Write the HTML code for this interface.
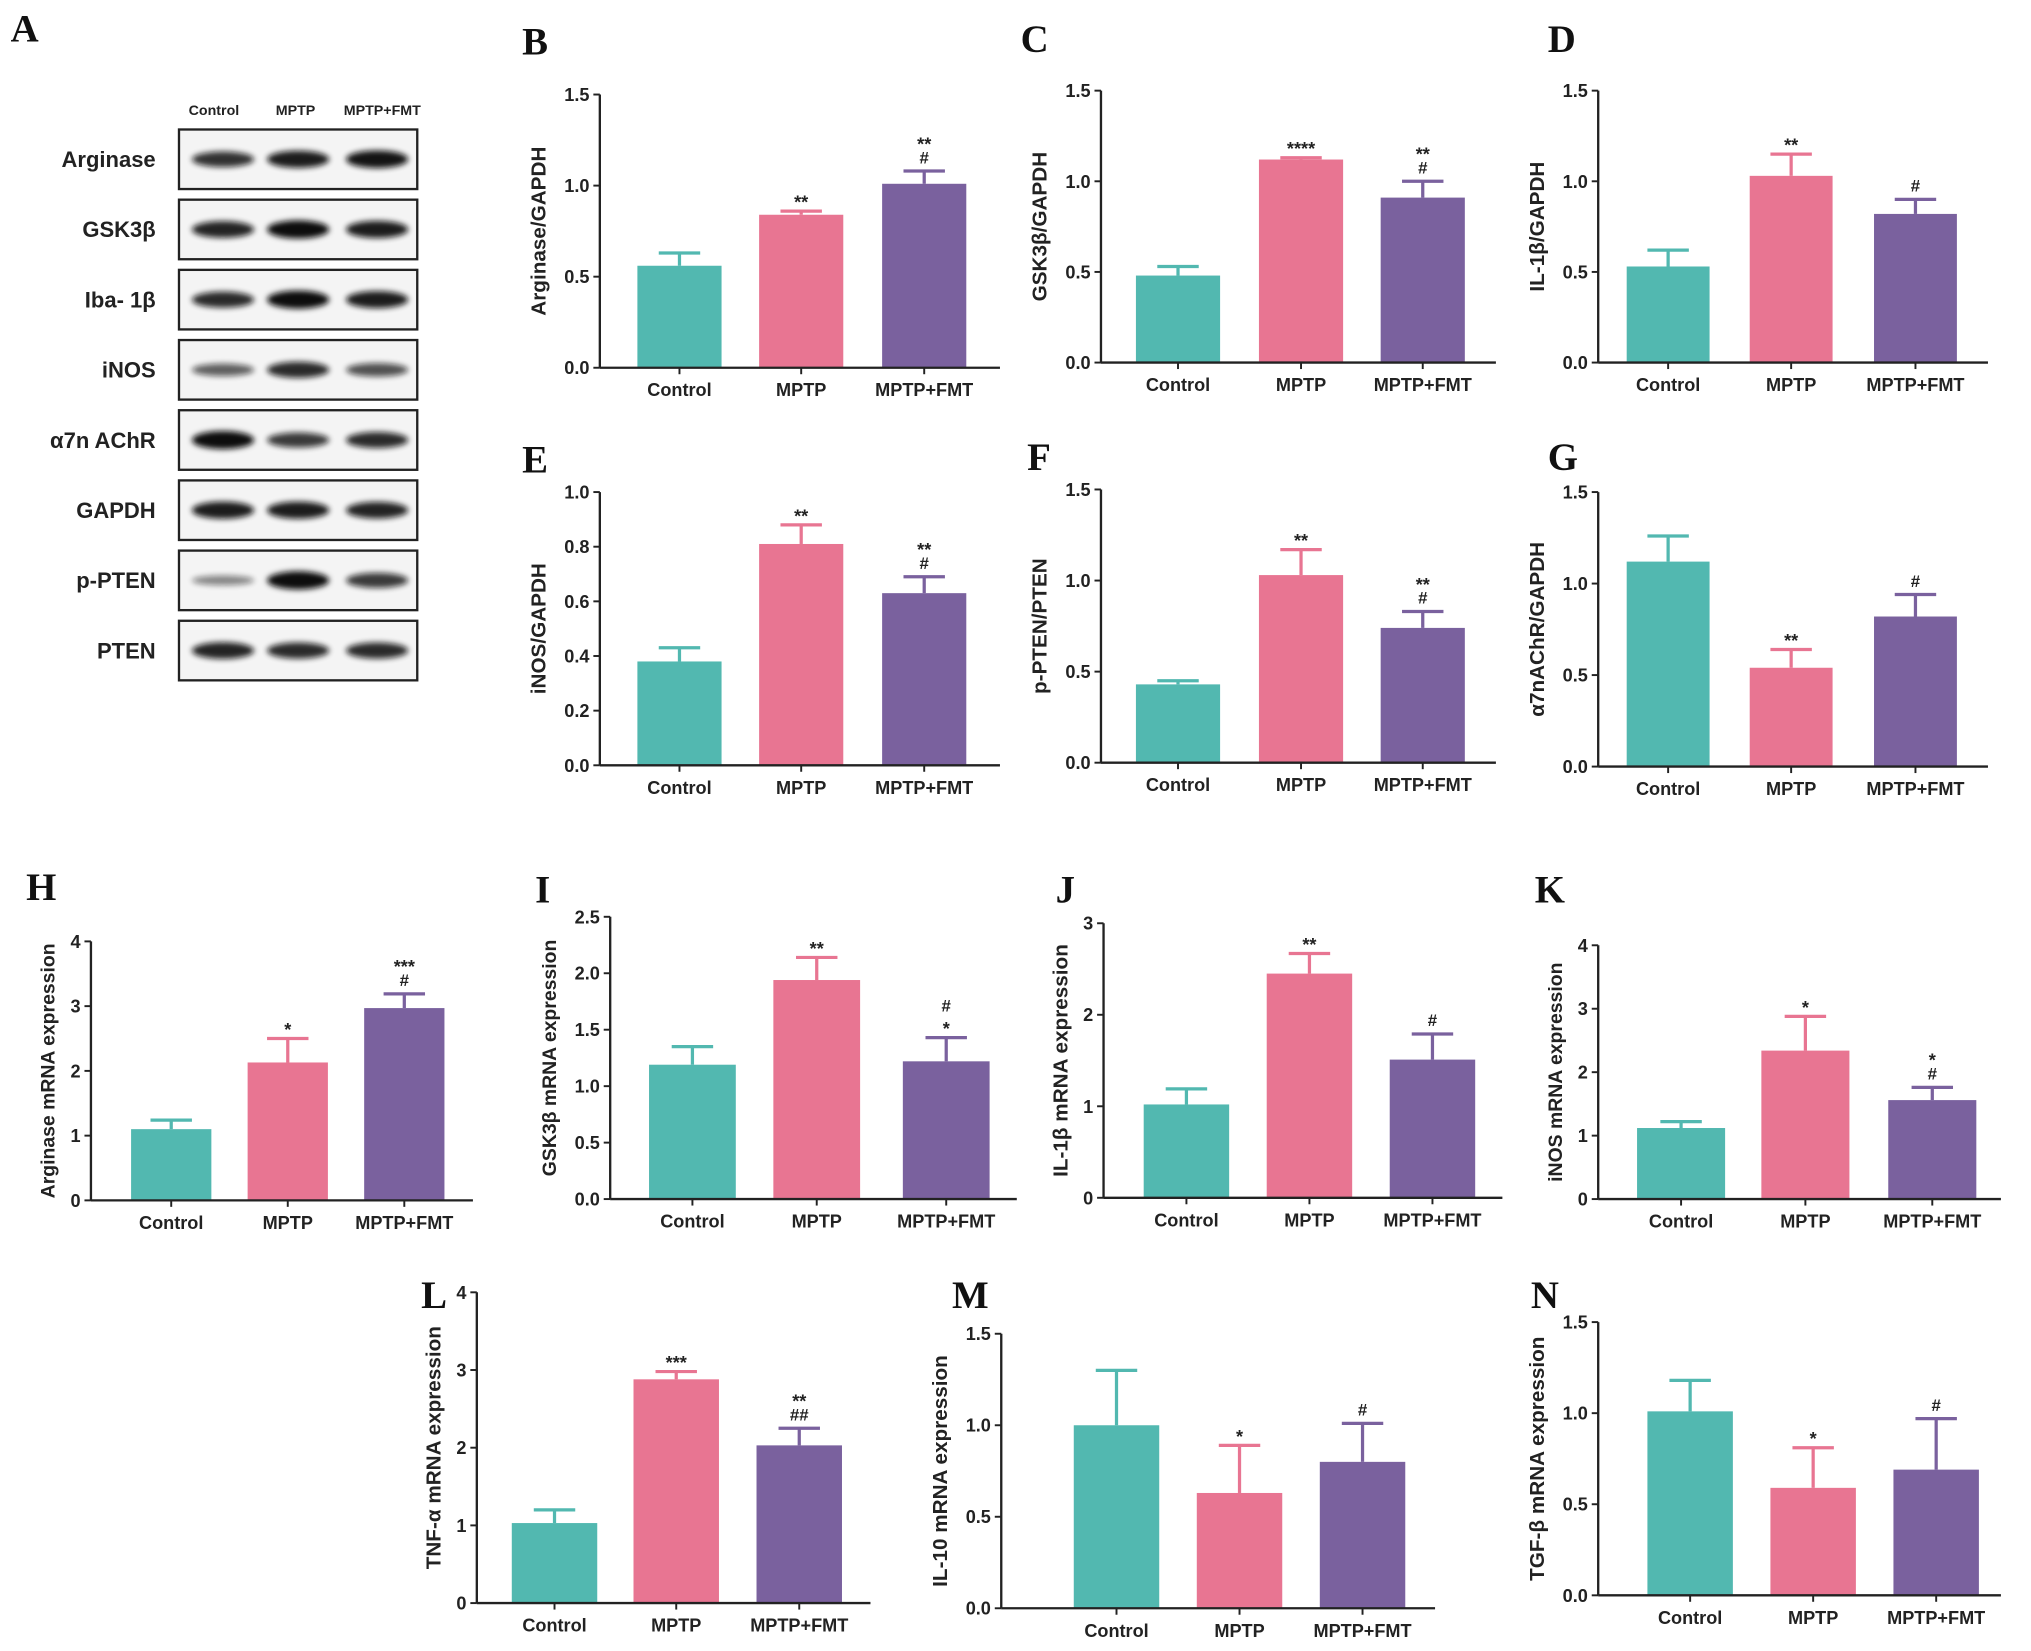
<!DOCTYPE html>
<html><head><meta charset="utf-8"><style>
html,body{margin:0;padding:0;background:#fff}
svg{display:block}
text{font-family:"Liberation Sans",sans-serif;font-weight:bold;fill:#222}
.plab{font-family:"Liberation Serif",serif;font-size:30px;fill:#111}
</style></head><body>
<svg id="fig" width="2031" height="1651" viewBox="0 0 1568 1275">
<defs><filter id="bl" x="-20%" y="-100%" width="140%" height="300%"><feGaussianBlur stdDeviation="2.2"/></filter></defs>
</svg>
<script>
const NS="http://www.w3.org/2000/svg";
const svg=document.getElementById('fig');
function mk(tag,attrs,parent,txt){const e=document.createElementNS(NS,tag);for(const k in attrs)e.setAttribute(k,attrs[k]);if(txt!==undefined)e.textContent=txt;(parent||svg).appendChild(e);return e;}

const categories=["Control","MPTP","MPTP+FMT"];
const colors=["#52b8b0","#e87592","#7a619e"];

// Western blot
const blotRows=["Arginase","GSK3β","Iba- 1β","iNOS","α7n AChR","GAPDH","p-PTEN","PTEN"];
const blotIntensity=[[0.75,0.9,0.95],[0.85,1,0.9],[0.8,1,0.9],[0.45,0.8,0.55],[1,0.7,0.8],[0.9,0.9,0.85],[0.2,1,0.7],[0.85,0.8,0.8]];

// Panel data
const meansB=[0.56,0.84,1.01], errB=[0.07,0.02,0.07], annB=[[],["**"],["**","#"]];
const meansC=[0.48,1.12,0.91], errC=[0.05,0.01,0.09], annC=[[],["****"],["**","#"]];
const meansD=[0.53,1.03,0.82], errD=[0.09,0.12,0.08], annD=[[],["**"],["#"]];
const meansE=[0.38,0.81,0.63], errE=[0.05,0.07,0.06], annE=[[],["**"],["**","#"]];
const meansF=[0.43,1.03,0.74], errF=[0.02,0.14,0.09], annF=[[],["**"],["**","#"]];
const meansG=[1.12,0.54,0.82], errG=[0.14,0.10,0.12], annG=[[],["**"],["#"]];
const meansH=[1.10,2.13,2.97], errH=[0.14,0.37,0.22], annH=[[],["*"],["***","#"]];
const meansI=[1.19,1.94,1.22], errI=[0.16,0.20,0.21], annI=[[],["**"],["#","*"]];
const meansJ=[1.02,2.45,1.51], errJ=[0.17,0.22,0.28], annJ=[[],["**"],["#"]];
const meansK=[1.12,2.34,1.56], errK=[0.10,0.54,0.20], annK=[[],["*"],["*","#"]];
const meansL=[1.03,2.88,2.03], errL=[0.17,0.10,0.22], annL=[[],["***"],["**","##"]];
const meansM=[1.00,0.63,0.80], errM=[0.30,0.26,0.21], annM=[[],["*"],["#"]];
const meansN=[1.01,0.59,0.69], errN=[0.17,0.22,0.28], annN=[[],["*"],["#"]];
const ticks15=["0.0","0.5","1.0","1.5"], ticks10=["0.0","0.2","0.4","0.6","0.8","1.0"], ticks4=["0","1","2","3","4"], ticks25=["0.0","0.5","1.0","1.5","2.0","2.5"], ticks3=["0","1","2","3"];

// layout (positions only)
const panels=[
 {id:"B",ax:463,top:73,zero:284,xEnd:772,bars:[492,586,681],bw:65,max:1.5,ticks:ticks15,m:meansB,e:errB,a:annB,title:"Arginase/GAPDH",lx:403,ly:42},
 {id:"C",ax:850,top:70,zero:280,xEnd:1155,bars:[877,972,1066],bw:65,max:1.5,ticks:ticks15,m:meansC,e:errC,a:annC,title:"GSK3β/GAPDH",lx:788,ly:40},
 {id:"D",ax:1234,top:70,zero:280,xEnd:1535,bars:[1256,1351,1447],bw:64,max:1.5,ticks:ticks15,m:meansD,e:errD,a:annD,title:"IL-1β/GAPDH",lx:1195,ly:40},
 {id:"E",ax:463,top:380,zero:591,xEnd:772,bars:[492,586,681],bw:65,max:1.0,ticks:ticks10,m:meansE,e:errE,a:annE,title:"iNOS/GAPDH",lx:403,ly:365},
 {id:"F",ax:850,top:378,zero:589,xEnd:1155,bars:[877,972,1066],bw:65,max:1.5,ticks:ticks15,m:meansF,e:errF,a:annF,title:"p-PTEN/PTEN",lx:793,ly:363},
 {id:"G",ax:1234,top:380,zero:592,xEnd:1535,bars:[1256,1351,1447],bw:64,max:1.5,ticks:ticks15,m:meansG,e:errG,a:annG,title:"α7nAChR/GAPDH",lx:1195,ly:363},
 {id:"H",ax:70,top:727,zero:927,xEnd:365,bars:[101,191,281],bw:62,max:4,ticks:ticks4,m:meansH,e:errH,a:annH,title:"Arginase mRNA expression",lx:20,ly:695,serif:true},
 {id:"I",ax:471,top:708,zero:926,xEnd:785,bars:[501,597,697],bw:67,max:2.5,ticks:ticks25,m:meansI,e:errI,a:annI,title:"GSK3β mRNA expression",lx:413,ly:697,serif:true},
 {id:"J",ax:852,top:713,zero:925,xEnd:1160,bars:[883,978,1073],bw:66,max:3,ticks:ticks3,m:meansJ,e:errJ,a:annJ,title:"IL-1β mRNA expression",lx:815,ly:697},
 {id:"K",ax:1234,top:730,zero:926,xEnd:1545,bars:[1264,1360,1458],bw:68,max:4,ticks:ticks4,m:meansK,e:errK,a:annK,title:"iNOS mRNA expression",lx:1185,ly:697,serif:true},
 {id:"L",ax:368,top:998,zero:1238,xEnd:672,bars:[395,489,584],bw:66,max:4,ticks:ticks4,m:meansL,e:errL,a:annL,title:"TNF-α mRNA expression",lx:325,ly:1010},
 {id:"M",ax:773,top:1030,zero:1242,xEnd:1108,bars:[829,924,1019],bw:66,max:1.5,ticks:ticks15,m:meansM,e:errM,a:annM,title:"IL-10 mRNA expression",lx:735,ly:1010},
 {id:"N",ax:1234,top:1021,zero:1232,xEnd:1545,bars:[1272,1367,1462],bw:66,max:1.5,ticks:ticks15,m:meansN,e:errN,a:annN,title:"TGF-β mRNA expression",lx:1182,ly:1010}
];

// Panel A: western blot
const gA=mk('g',{});


let tA=mk('text',{x:8,y:32,class:'plab'},gA,'A');


const laneX=[172,230,291];
const colLabX=[165,228,295];
categories.forEach((c,i)=>{const t=mk('text',{x:colLabX[i],y:89,'font-size':11,'text-anchor':'middle'},gA,c);
 
 });
blotRows.forEach((r,i)=>{
 const y0=100+i*54.2, h=46;
 const row=mk('g',{},gA);
 
 
 mk('rect',{x:138,y:y0,width:184,height:h,fill:'#f4f4f4',stroke:'#222','stroke-width':1.8},row);
 blotIntensity[i].forEach((v,j)=>{
  mk('ellipse',{cx:laneX[j],cy:y0+h/2,rx:24,ry:3+4*v,fill:'#111',opacity:0.35+0.65*v,filter:'url(#bl)'},row);
 });
 const t=mk('text',{x:120,y:y0+h/2+6,'font-size':17,'text-anchor':'end'},row,r);
 
 
});

// Bar panels
panels.forEach(p=>{
 const g=mk('g',{});
 
 
 const yS=v=>p.zero-(v/p.max)*(p.zero-p.top);
 const lab=mk('text',{x:p.lx,y:p.ly,class:'plab'},g,p.id);
 
 
 p.m.forEach((v,i)=>{
  const x=p.bars[i], cx=x+p.bw/2, top=yS(v), et=yS(v+p.e[i]);
  const eb=mk('line',{x1:cx,x2:cx,y1:top,y2:et,stroke:colors[i],'stroke-width':2.5},g);
  
  
  mk('line',{x1:cx-16,x2:cx+16,y1:et,y2:et,stroke:colors[i],'stroke-width':2.5},g);
  const b=mk('rect',{x:x,y:top,width:p.bw,height:p.zero-top,fill:colors[i]},g);
  
  
  const ann=p.a[i];
  ann.forEach((s,k)=>{
   const yy=et-6-(ann.length-1-k)*14;
   const t=mk('text',{x:cx,y:yy+(s.indexOf('*')>=0?4:0),'font-size':s.indexOf('*')>=0?14:13,'font-weight':'normal','text-anchor':'middle'},g,s);
   
   
  });
  const xl=mk('text',{x:cx,y:p.zero+22,'font-size':14,'text-anchor':'middle'},g,categories[i]);
  
  
  mk('line',{x1:cx,x2:cx,y1:p.zero,y2:p.zero+5,stroke:'#222','stroke-width':1.5},g);
 });
 const ya=mk('line',{x1:p.ax,x2:p.ax,y1:p.top,y2:p.zero,stroke:'#222','stroke-width':1.8},g);
 
 
 const xa=mk('line',{x1:p.ax,x2:p.xEnd,y1:p.zero,y2:p.zero,stroke:'#222','stroke-width':1.8},g);
 
 
 p.ticks.forEach((tl,k)=>{
  const v=p.max*k/(p.ticks.length-1), y=yS(v);
  mk('line',{x1:p.ax-5,x2:p.ax,y1:y,y2:y,stroke:'#222','stroke-width':1.5},g);
  const t=mk('text',{x:p.ax-8,y:y+5,'font-size':14,'text-anchor':'end'},g,tl);
  
  
 });
 const tx=p.ax-(p.ticks[0].length>1?42:28), ty=(p.top+p.zero)/2;
 const yt=mk('text',{x:tx,y:ty,'font-size':p.serif?15:16,'text-anchor':'middle',transform:`rotate(-90 ${tx} ${ty})`,'font-family':p.serif?'"Liberation Serif",serif':'"Liberation Sans",sans-serif'},g,p.title);
 
 
});
</script>
</body></html>
